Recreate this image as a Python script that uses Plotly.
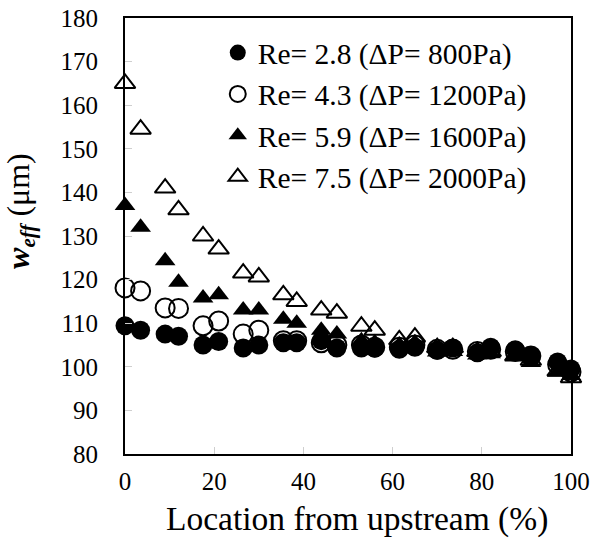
import plotly.graph_objects as go

# Location from upstream (%)
location = [0, 3.5, 9, 12, 17.5, 21, 26.5, 30, 35.5, 38.5, 44, 47.5,
            53, 56, 61.5, 65, 70, 73.5, 79, 82, 87.5, 91, 97, 100]

# w_eff (um) for each Re
w_re28 = [109.4, 108.4, 107.5, 107.0, 105.0, 105.8, 104.3, 105.0, 105.5, 105.5, 106.0, 104.3,
          104.3, 104.3, 104.0, 104.5, 103.8, 104.3, 103.2, 104.5, 103.9, 102.5, 101.1, 99.5]
w_re43 = [118.1, 117.4, 113.5, 113.4, 109.4, 110.5, 107.5, 108.4, 106.0, 106.0, 105.5, 105.0,
          105.0, 104.5, 104.5, 105.0, 104.0, 104.0, 103.5, 104.0, 103.5, 102.5, 100.5, 98.8]
w_re59 = [137.0, 132.0, 124.3, 119.4, 115.8, 116.5, 113.0, 113.0, 110.9, 110.0, 108.4, 107.5,
          106.0, 105.5, 105.0, 105.5, 103.4, 103.5, 102.7, 103.0, 102.5, 101.0, 98.8, 98.0]
w_re75 = [165.0, 154.5, 141.0, 136.0, 130.0, 127.0, 121.5, 120.6, 116.5, 115.0, 113.0, 112.3,
          109.3, 108.4, 106.2, 106.8, 104.4, 104.4, 103.5, 103.5, 102.5, 101.5, 99.0, 97.5]

series_names = ["Re= 2.8 (ΔP= 800Pa)", "Re= 4.3 (ΔP= 1200Pa)",
                "Re= 5.9 (ΔP= 1600Pa)", "Re= 7.5 (ΔP= 2000Pa)"]
series_values = [w_re28, w_re43, w_re59, w_re75]

x_range = [0, 100]
y_range = [80, 180]
x_ticks = [0, 20, 40, 60, 80, 100]
y_ticks = [80, 90, 100, 110, 120, 130, 140, 150, 160, 170, 180]

x_title = "Location from upstream (%)"
y_title = ("<b><i>w</i></b><sub><span style='font-size:21px'><b><i>eff</i></b></span></sub>"
           " (μm)")

symbols = ["circle", "circle-open", "triangle-up", "triangle-up-open"]
sizes = [19, 19, 18, 18]

fig = go.Figure()
for name, vals, sym, sz in zip(series_names, series_values, symbols, sizes):
    fig.add_trace(go.Scatter(
        x=location, y=vals, mode="markers", name=name, cliponaxis=False,
        marker=dict(symbol=sym, size=sz, color="black",
                    line=dict(color="black", width=2 if "open" in sym else 0)),
    ))

# empty trace so the overlay axes (light grey inside tick marks) are drawn
fig.add_trace(go.Scatter(x=[], y=[], xaxis="x2", yaxis="y2", showlegend=False,
                         hoverinfo="skip"))

font = "Liberation Serif, Times New Roman, serif"
tickfont = dict(family=font, size=25, color="black")

fig.update_layout(
    width=594, height=539, autosize=False,
    margin=dict(l=125, r=23, t=18, b=85),
    paper_bgcolor="white", plot_bgcolor="white",
    font=dict(family=font, color="black"),
    showlegend=True,
    legend=dict(x=0.208, y=0.9795, xanchor="left", yanchor="top",
                bgcolor="rgba(0,0,0,0)", borderwidth=0,
                font=dict(family=font, size=29.5, color="black")),
    xaxis=dict(range=x_range, tickvals=x_ticks, showline=True, linecolor="black",
               linewidth=2, mirror=True, showgrid=False, zeroline=False,
               ticks="outside", ticklen=4, tickcolor="rgba(0,0,0,0)",
               tickfont=tickfont, automargin=False),
    yaxis=dict(range=y_range, tickvals=y_ticks, showline=True, linecolor="black",
               linewidth=2, mirror=True, showgrid=False, zeroline=False,
               ticks="outside", ticklen=20, tickcolor="rgba(0,0,0,0)",
               tickfont=tickfont, automargin=False),
    xaxis2=dict(range=x_range, tickvals=x_ticks, overlaying="x", anchor="y2",
                showline=False, showgrid=False, zeroline=False, showticklabels=False,
                ticks="inside", ticklen=7, tickcolor="#cfcfcf", tickwidth=1,
                automargin=False),
    yaxis2=dict(range=y_range, tickvals=y_ticks, overlaying="y", anchor="x2",
                showline=False, showgrid=False, zeroline=False, showticklabels=False,
                ticks="inside", ticklen=7, tickcolor="#cfcfcf", tickwidth=1,
                automargin=False),
    annotations=[
        dict(text=x_title, xref="paper", yref="paper", x=0.52, y=-0.149,
             xanchor="center", yanchor="middle", showarrow=False,
             font=dict(family=font, size=33.5, color="black")),
        dict(text=y_title, xref="paper", yref="paper", x=-0.236, y=0.557,
             xanchor="center", yanchor="middle", showarrow=False, textangle=-90,
             font=dict(family=font, size=32, color="black")),
    ],
)

fig.write_html("out.html")
